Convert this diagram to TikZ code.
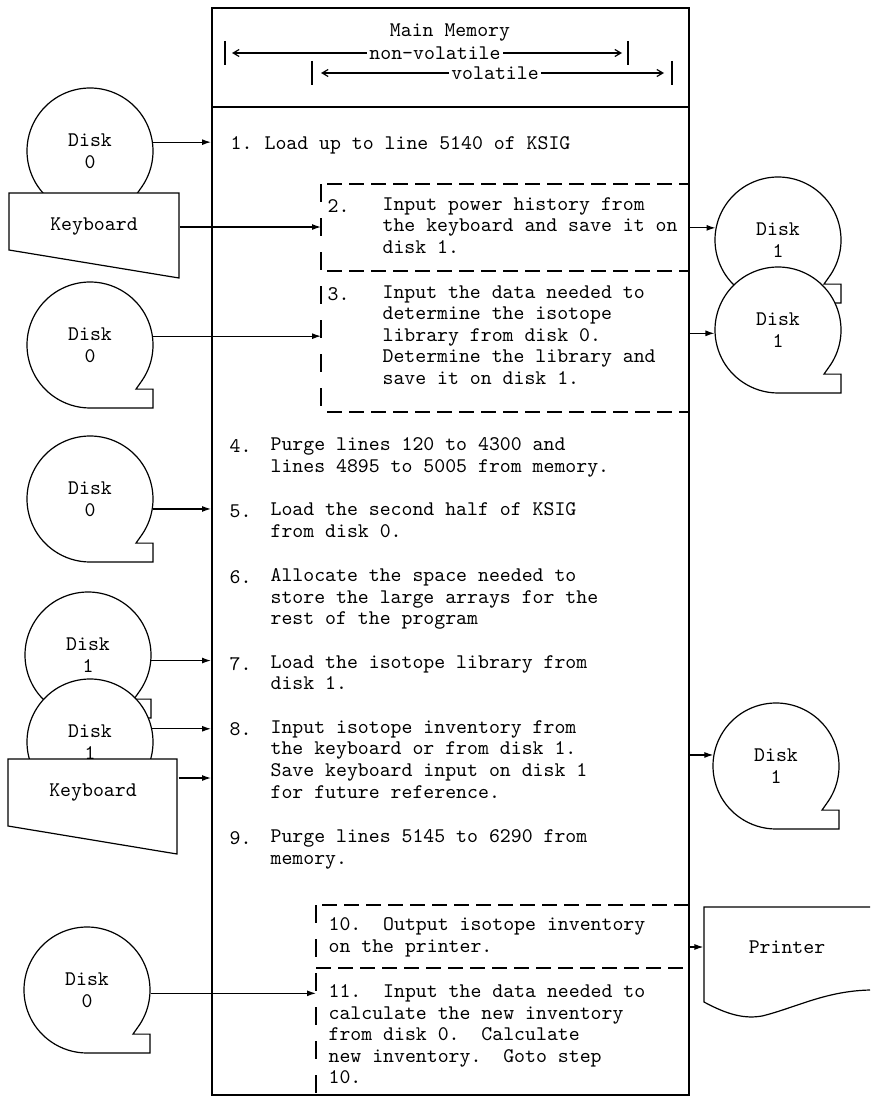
\documentclass[tikz,border=0pt]{standalone}
\usepackage{fontspec}
\usepackage{tikz}
\usetikzlibrary{arrows.meta, positioning}

\newcommand{\taperad}{31.5pt}
% magnetic tape outline, centre given as x,y
\newcommand{\tapeat}[1]{%
  \draw[fill=white] (#1) ++(-35:\taperad)
    arc[start angle=-35, end angle=270, radius=\taperad]
    -- ++(\taperad,0) -- ++(0,0.3*\taperad) -- ++(-0.27*\taperad,0) -- cycle;}

\begin{document}
\begin{tikzpicture}[x=0.5pt, y=0.5pt, line width=0.6pt,
    every node/.style={font=\ttfamily\fontsize{10.4}{10.8}\selectfont\frenchspacing},
    tape/.style={circle, minimum size=63pt, inner sep=0pt, align=center},
    kbd/.style={minimum width=85pt, inner sep=0pt},
    steptext/.style={anchor=north west, inner sep=0pt, align=left,
                     execute at begin node=\strut, yshift=7.56pt},
    stepnum/.style={anchor=base west, inner sep=0pt},
    rng/.style={inner sep=1pt},
    arr/.style={-{Latex[length=4.5pt,width=3pt]}},
    harr/.style={-{Straight Barb[length=3pt,width=3.5pt]}},
    grp/.style={dashed, dash pattern=on 7.5pt off 3.5pt},
    side/.style={dashed, dash pattern=on 9pt off 8pt}
]
\useasboundingbox (0,0) rectangle (871,-1097);

% --- Main memory box ---
\node[draw, line width=1pt, inner sep=0pt, minimum width=238.5pt,
      minimum height=543.5pt] (mem) at (450.5,-551.5) {};
\coordinate (hdr) at (0,-107);
\draw[line width=1pt] (mem.west |- hdr) -- (mem.east |- hdr);

% --- Header ---
\node (mm) at (450,-33) {Main Memory};
\node[rng] (nv) at (435,-53) {non-volatile};
\node[rng] (vo) at (495,-73) {volatile};
\coordinate (nvl) at (225,-53);
\coordinate (nvr) at (628,-53);
\coordinate (vol) at (312,-73);
\coordinate (vor) at (672,-73);
\foreach \c in {nvl,nvr,vol,vor}
  \draw ([yshift=6pt]\c) -- ([yshift=-6pt]\c);
\draw[harr, shorten >=3.5pt] (nv) -- (nvl);
\draw[harr, shorten >=3pt] (nv) -- (nvr);
\draw[harr, shorten >=4.5pt] (vo) -- (vol);
\draw[harr, shorten >=4pt] (vo) -- (vor);

% --- Dashed groups (steps 2-3 and 10-11) ---
\coordinate (g2) at (321,-184);
\coordinate (g10) at (316,-905);
\draw[grp] (327,-184) -- (689,-184);
\draw[grp] (327,-271) -- (689,-271);
\draw[grp] (327,-412) -- (689,-412);
\draw[side] (g2) -- (321,-412);
\draw[grp] (322,-905) -- (689,-905);
\draw[grp] (316,-968) -- (689,-968);
\draw[side] (g10) -- (316,-1095);

% --- Devices (back to front) ---
\tapeat{90,-151}
\draw[fill=white] (9,-193) -- (179,-193) -- (179,-278) -- (9,-250) -- cycle;
\tapeat{90,-345}
\tapeat{90,-499}
\tapeat{88,-655}
\tapeat{90,-742}
\draw[fill=white] (8,-759) -- (177,-759) -- (177,-854) -- (8,-826) -- cycle;
\tapeat{87,-990}
\tapeat{778,-240}
\tapeat{778,-330}
\tapeat{776,-766}
\draw (870,-907) -- (704,-907) -- (704,-1002)
  .. controls (728,-1015) and (745,-1019) .. (762,-1016)
  .. controls (795,-1008) and (825,-991) .. (870,-990);

\node[tape] (d0a) at (90,-151) {Disk\\0};
\node[kbd] (kba) at (94,-227) {Keyboard};
\node[tape] (d0b) at (90,-345) {Disk\\0};
\node[tape] (d0c) at (90,-499) {Disk\\0};
\node[tape] (d1a) at (88,-655) {Disk\\1};
\node[tape] (d1b) at (90,-742) {Disk\\1};
\node[kbd] (kbb) at (93,-793) {Keyboard};
\node[tape] (d0d) at (87,-990) {Disk\\0};
\node[tape] (d1c) at (778,-240) {Disk\\1};
\node[tape] (d1d) at (778,-330) {Disk\\1};
\node[tape] (d1e) at (776,-766) {Disk\\1};
\node[minimum width=83pt, inner sep=0pt] (prn) at (787,-947) {Printer};

% --- Steps ---
\node[stepnum] (n1) at (230,-149) {1.};
\node[steptext] (s1) at (264,-149) {Load up to line 5140 of KSIG};
\node[stepnum] (n2) at (327,-212) {2.};
\node[steptext] (s2) at (382,-212) {Input power history from\\the keyboard and save it on\\disk 1.};
\node[stepnum] (n3) at (327,-300) {3.};
\node[steptext] (s3) at (382,-300) {Input the data needed to\\determine the isotope\\library from disk 0.\\Determine the library and\\save it on disk 1.};
\node[stepnum] (n4) at (229,-452) {4.};
\node[steptext] (s4) at (270,-452) {Purge lines 120 to 4300 and\\lines 4895 to 5005 from memory.};
\node[stepnum] (n5) at (229,-517) {5.};
\node[steptext] (s5) at (270,-517) {Load the second half of KSIG\\from disk 0.};
\node[stepnum] (n6) at (229,-583) {6.};
\node[steptext] (s6) at (270,-583) {Allocate the space needed to\\store the large arrays for the\\rest of the program};
\node[stepnum] (n7) at (229,-670) {7.};
\node[steptext] (s7) at (270,-670) {Load the isotope library from\\disk 1.};
\node[stepnum] (n8) at (229,-735) {8.};
\node[steptext] (s8) at (270,-735) {Input isotope inventory from\\the keyboard or from disk 1.\\Save keyboard input on disk 1\\for future reference.};
\node[stepnum] (n9) at (229,-844) {9.};
\node[steptext] (s9) at (270,-844) {Purge lines 5145 to 6290 from\\memory.};
\node[steptext] (s10) at (328,-932) {10.~~Output isotope inventory\\on the printer.};
\node[steptext] (s11) at (328,-999) {11.~~Input the data needed to\\calculate the new inventory\\from disk 0.~~Calculate\\new inventory.~~Goto step\\10.};

% --- Transfers ---
\draw[arr] (d0a.8) -- (d0a.8 -| mem.west);
\draw[arr] (kba.east) -- (kba.east -| g2);
\draw[arr] (d0b.8) -- (d0b.8 -| g2);
\draw[arr] (d0c.-9) -- (d0c.-9 -| mem.west);
\draw[arr] (d1a.-5) -- (d1a.-5 -| mem.west);
\draw[arr] (d1b.12) -- (d1b.12 -| mem.west);
\draw[arr] ([yshift=7.5pt]kbb.east) -- ([yshift=7.5pt]kbb.east -| mem.west);
\draw[arr] (d0d.-3) -- (d0d.-3 -| g10);
\draw[arr] (d1c.169 -| mem.east) -- (d1c.169);
\draw[arr] (d1d.183 -| mem.east) -- (d1d.183);
\draw[arr] (d1e.170 -| mem.east) -- (d1e.170);
\draw[arr] (prn.west -| mem.east) -- (prn.west);
\end{tikzpicture}
\end{document}
